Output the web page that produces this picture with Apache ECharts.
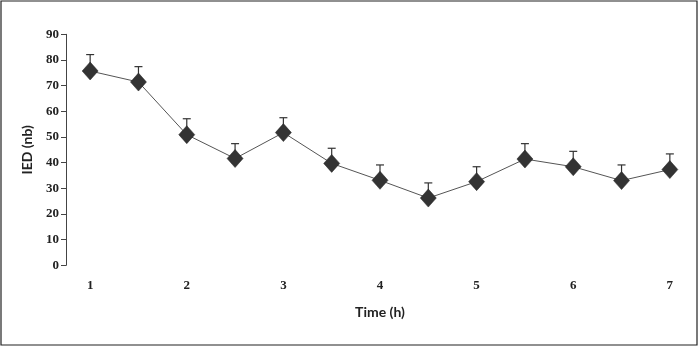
<!DOCTYPE html>
<html>
<head>
<meta charset="utf-8">
<script src="https://cdn.jsdelivr.net/npm/echarts@6/dist/echarts.min.js"></script>
<style>
html,body{margin:0;padding:0;background:#fff;}
#c{width:700px;height:347px;}
</style>
</head>
<body>
<div id="c"></div>
<script>
var categories = ['1','1.5','2','2.5','3','3.5','4','4.5','5','5.5','6','6.5','7'];
var means = [75.7, 71.4, 50.9, 41.6, 51.7, 39.7, 33.1, 26.2, 32.6, 41.4, 38.4, 33.0, 37.3];
var errUpper = [82.1, 77.4, 57.1, 47.4, 57.5, 45.6, 39.1, 32.1, 38.4, 47.4, 44.4, 39.1, 43.4];
var yTicks = [0, 10, 20, 30, 40, 50, 60, 70, 80, 90];

var errData = means.map(function (m, i) { return [i, m, errUpper[i]]; });

var chart = echarts.init(document.getElementById('c'), null, {renderer: 'canvas'});
chart.setOption({
  animation: false,
  backgroundColor: '#fff',
  graphic: [{
    type: 'rect',
    shape: {x: 1, y: 1, width: 696, height: 344},
    style: {fill: 'none', stroke: '#222', lineWidth: 1.2},
    silent: true
  }],
  grid: {left: 66, top: 34.3, width: 628, bottom: 81.7, containLabel: false},
  xAxis: {
    type: 'category',
    data: categories,
    boundaryGap: true,
    axisLine: {show: false},
    axisTick: {show: false},
    axisLabel: {
      interval: 1,
      margin: 14,
      fontFamily: 'Liberation Serif',
      fontWeight: 'bold',
      fontSize: 13,
      color: '#222'
    },
    name: 'Time (h)',
    nameLocation: 'middle',
    nameGap: 40,
    nameTextStyle: {fontFamily: 'Lato', fontWeight: 'bold', fontSize: 14, color: '#222'},
    splitLine: {show: false}
  },
  yAxis: {
    type: 'value',
    min: yTicks[0],
    max: yTicks[yTicks.length - 1],
    interval: 10,
    axisLine: {show: true, lineStyle: {color: '#444', width: 1}},
    axisTick: {show: true, length: 5, lineStyle: {color: '#444'}},
    axisLabel: {
      margin: 7,
      fontFamily: 'Liberation Serif',
      fontWeight: 'bold',
      fontSize: 13,
      color: '#222'
    },
    splitLine: {show: false},
    name: 'IED (nb)',
    nameLocation: 'middle',
    nameGap: 32,
    nameRotate: 90,
    nameTextStyle: {fontFamily: 'Lato', fontWeight: 'bold', fontSize: 14, color: '#222'}
  },
  series: [
    {
      type: 'custom',
      data: errData,
      z: 1,
      renderItem: function (params, api) {
        var i = api.value(0);
        var p0 = api.coord([i, api.value(1)]);
        var p1 = api.coord([i, api.value(2)]);
        var hw = 4;
        return {
          type: 'group',
          children: [
            {type: 'line', shape: {x1: p0[0], y1: p0[1], x2: p1[0], y2: p1[1]}, style: {stroke: '#333', lineWidth: 1.2}},
            {type: 'line', shape: {x1: p1[0] - hw, y1: p1[1], x2: p1[0] + hw, y2: p1[1]}, style: {stroke: '#333', lineWidth: 1.2}}
          ]
        };
      }
    },
    {
      type: 'line',
      data: means,
      z: 3,
      symbol: 'diamond',
      symbolSize: [16, 18],
      itemStyle: {color: '#333', borderColor: '#222', borderWidth: 0.5},
      lineStyle: {color: '#555', width: 1}
    }
  ]
});
</script>
</body>
</html>
